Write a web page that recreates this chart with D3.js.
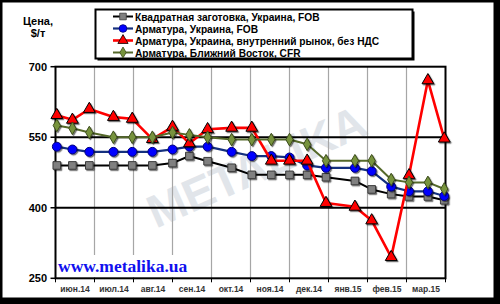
<!DOCTYPE html>
<html><head><meta charset="utf-8">
<script src="https://cdn.jsdelivr.net/npm/d3@7"></script>
<style>html,body{margin:0;padding:0;background:#fff;}svg{display:block;}</style>
</head><body>
<script>
// ---- data ----
const monthLabels = ["июн.14","июл.14","авг.14","сен.14","окт.14","ноя.14","дек.14","янв.15","фев.15","мар.15"];
const dates = ["2014-06-02","2014-06-14","2014-06-27","2014-07-16","2014-07-31","2014-08-16","2014-09-01",
  "2014-09-14","2014-09-28","2014-10-17","2014-11-02","2014-11-17","2014-12-01","2014-12-15","2014-12-30",
  "2015-01-22","2015-02-04","2015-02-18","2015-03-03","2015-03-18","2015-03-31"];
const billetFob   = [490,490,490,490,490,490,495,510,499,485,470,470,470,470,465,457,439,429,424,424,416];
const rebarFob    = [530,524,519,519,519,519,524,530,530,519,510,510,507,490,485,485,478,445,435,435,425];
const rebarDomestic = [597,587,610,593,589,546,572,537,567,570,570,500,500,500,410,402,373,295,469,671,547];
const rebarMENA   = [575,569,560,550,550,550,560,555,550,545,545,545,545,535,500,500,500,460,454,454,440];
const seriesNames = ["Квадратная заготовка, Украина, FOB","Арматура, Украина, FOB",
  "Арматура, Украина, внутренний рынок, без НДС","Арматура, Ближний Восток, CFR"];
const yTicks = [250,400,550,700];

// ---- helpers ----
function monthPos(s){
  const [y,m,d] = s.split("-").map(Number);
  const idx = (y-2014)*12 + (m-1) - 5;
  const dim = new Date(y, m, 0).getDate();
  return idx + (d-1)/dim;
}

const W=500,H=304;
const svg = d3.select("body").append("svg").attr("width",W).attr("height",H);
const defs = svg.append("defs");
const f = defs.append("filter").attr("id","sh").attr("x","-50%").attr("y","-50%").attr("width","200%").attr("height","200%");
f.append("feDropShadow").attr("dx",1.2).attr("dy",1.2).attr("stdDeviation",0.4).attr("flood-color","#000").attr("flood-opacity",0.55);

// outer frame with shadow
svg.append("rect").attr("x",0).attr("y",0).attr("width",W).attr("height",H).attr("fill","#000");
svg.append("rect").attr("x",2.5).attr("y",2.5).attr("width",491).attr("height",295).attr("fill","#fff");

const x = d3.scaleLinear().domain([0,10]).range([55.5,445.5]);
const y = d3.scaleLinear().domain([250,700]).range([278.3,66.7]);

// watermark logo
svg.append("text").attr("transform","translate(258,170) rotate(-24)")
  .attr("text-anchor","middle").attr("dominant-baseline","middle")
  .style("font-family","Liberation Sans, Arial, sans-serif").style("font-weight","bold")
  .style("font-size","46px").attr("fill","#e1e5ea").text("METALIKA");

// vertical grid
const g = svg.append("g");
g.selectAll("line.v").data(d3.range(1,10)).join("line")
  .attr("x1",d=>x(d)).attr("x2",d=>x(d)).attr("y1",y(700)).attr("y2",y(250))
  .attr("stroke","#a6a6a6").attr("stroke-width",1.2);
// site label background
svg.append("rect").attr("x",57).attr("y",255).attr("width",134).attr("height",22).attr("fill","#fff");
svg.append("text").attr("x",58).attr("y",272)
  .style("font-family","Liberation Serif, 'Times New Roman', serif").style("font-weight","bold")
  .style("font-size","17.5px").attr("fill","#1010ee").text("www.metalika.ua");

// horizontal grid
g.selectAll("line.h").data([400,550]).join("line")
  .attr("x1",x(0)).attr("x2",x(10)).attr("y1",d=>y(d)).attr("y2",d=>y(d))
  .attr("stroke","#000").attr("stroke-width",2);

// frame
svg.append("rect").attr("x",x(0)).attr("y",y(700)).attr("width",x(10)-x(0)).attr("height",y(250)-y(700))
  .attr("fill","none").attr("stroke","#000").attr("stroke-width",2);

// y axis ticks and labels
const yAx = svg.append("g");
yAx.selectAll("line").data(yTicks).join("line")
  .attr("x1",x(0)-5).attr("x2",x(0)).attr("y1",d=>y(d)).attr("y2",d=>y(d)).attr("stroke","#000").attr("stroke-width",1.5);
yAx.selectAll("text").data(yTicks).join("text")
  .attr("x",47).attr("y",d=>y(d)+4).attr("text-anchor","end")
  .style("font-family","Liberation Sans, Arial, sans-serif").style("font-weight","bold").style("font-size","11px")
  .attr("fill","#000").text(d=>d);

// x ticks and labels
const xAx = svg.append("g");
xAx.selectAll("line").data(d3.range(0,11)).join("line")
  .attr("x1",d=>x(d)).attr("x2",d=>x(d)).attr("y1",y(250)).attr("y2",y(250)+4).attr("stroke","#000").attr("stroke-width",1);
xAx.selectAll("text").data(monthLabels).join("text")
  .attr("x",(d,i)=>x(i+0.5)).attr("y",292).attr("text-anchor","middle")
  .style("font-family","Liberation Sans, Arial, sans-serif").style("font-weight","bold").style("font-size","8.5px")
  .attr("fill","#333").text(d=>d);

// y title
const yt = svg.append("text").attr("text-anchor","middle")
  .style("font-family","Liberation Sans, Arial, sans-serif").style("font-weight","bold").style("font-size","11px");
yt.append("tspan").attr("x",38).attr("y",25).text("Цена,");
yt.append("tspan").attr("x",38).attr("y",37).text("$/т");

// series
const xs = dates.map(monthPos);
const series = [
  {name:seriesNames[0], vals:billetFob, line:"#000", lw:2, shape:d3.symbolSquare, size:58, fill:"#808080", stroke:"#3a3a3a"},
  {name:seriesNames[1], vals:rebarFob, line:"#14307e", lw:2.2, shape:d3.symbolCircle, size:62, fill:"#0000ff", stroke:"#00007a"},
  {name:seriesNames[2], vals:rebarDomestic, line:"#ff0000", lw:2.6, shape:d3.symbolTriangle, size:60, fill:"#ff0000", stroke:"#000"},
  {name:seriesNames[3], vals:rebarMENA, line:"#55692a", lw:2, shape:d3.symbolDiamond, size:46, fill:"#77933c", stroke:"#3d4d1c"}
];
const lineGen = d3.line().x(d=>x(d[0])).y(d=>y(d[1]));
series.forEach(s=>{
  const pts = xs.map((v,i)=>[v,s.vals[i]]);
  const gs = svg.append("g");
  gs.append("path").attr("d",lineGen(pts)).attr("fill","none").attr("stroke",s.line).attr("stroke-width",s.lw)
    .attr("stroke-linejoin","round");
  gs.selectAll("path.m").data(pts).join("path").attr("class","m")
    .attr("transform",d=>`translate(${x(d[0])},${y(d[1])})`)
    .attr("d",d3.symbol().type(s.shape).size(s.size)())
    .attr("fill",s.fill).attr("stroke",s.stroke).attr("stroke-width",1).attr("filter","url(#sh)");
});

// legend
const lg = svg.append("g");
lg.append("rect").attr("x",97.5).attr("y",11.5).attr("width",317).attr("height",49).attr("fill","#000");
lg.append("rect").attr("x",95.5).attr("y",9.5).attr("width",317).attr("height",49).attr("fill","#fff")
  .attr("stroke","#000").attr("stroke-width",2);
series.forEach((s,i)=>{
  const cy = 16.5 + i*12;
  lg.append("line").attr("x1",113).attr("x2",133).attr("y1",cy).attr("y2",cy).attr("stroke",s.line).attr("stroke-width",s.lw);
  lg.append("path").attr("transform",`translate(123,${cy})`).attr("d",d3.symbol().type(s.shape).size(s.size*0.75)())
    .attr("fill",s.fill).attr("stroke",s.stroke).attr("stroke-width",0.8);
  lg.append("text").attr("x",135).attr("y",cy+4)
    .style("font-family","Liberation Sans, Arial, sans-serif").style("font-weight","bold").style("font-size","10.2px")
    .attr("fill","#000").text(s.name);
});
</script>
</body></html>
